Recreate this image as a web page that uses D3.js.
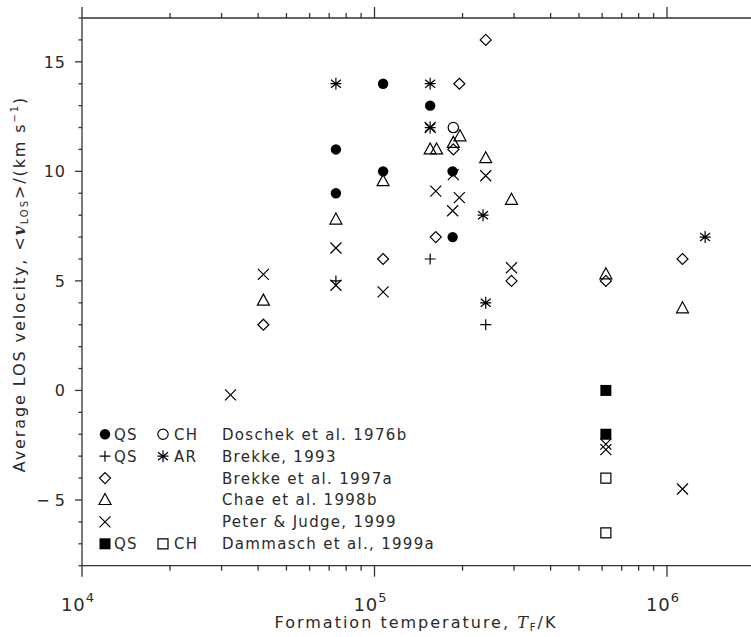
<!DOCTYPE html>
<html><head><meta charset="utf-8">
<script src="https://cdn.jsdelivr.net/npm/d3@7"></script>
<style>body{margin:0;background:#fff}</style>
</head><body>
<svg id="c" width="751" height="637"></svg>
<script>
// ---- data: [formation temperature (K), average LOS velocity (km/s)] ----
const doschekQS  = [[73800,11],[73800,9],[107000,14],[107000,10],[155000,13],[185000,10],[185000,7]];
const doschekCH  = [[186000,12]];
const brekke93QS = [[73800,5.0],[155000,6],[240000,3]];
const brekke93AR = [[73800,14],[155000,14],[155000,12],[235000,8],[240000,4],[1350000,7]];
const brekke97a  = [[41700,3],[107000,6],[162000,7],[186000,11],[195000,14],[240000,16],[294000,5],[618000,5],[1130000,6]];
const chae98b    = [[41700,4.1],[73800,7.8],[107000,9.55],[155000,11],[163000,11],[186000,11.3],[196000,11.6],[240000,10.6],[294000,8.7],[618000,5.3],[1130000,3.75]];
const peter99    = [[32200,-0.2],[41700,5.3],[73800,6.5],[73800,4.8],[107000,4.5],[155000,12],[162000,9.1],[186000,9.85],[195000,8.8],[185000,8.2],[240000,9.8],[294000,5.6],[618000,-2.45],[618000,-2.7],[1130000,-4.5]];
const dammaschQS = [[618000,0],[618000,-2]];
const dammaschCH = [[618000,-4],[618000,-6.5]];

const yTicks = [-5,0,5,10,15];
const xTickExps = [4,5,6];
const legendLabels = ["Doschek et al. 1976b","Brekke, 1993","Brekke et al. 1997a","Chae et al. 1998b","Peter & Judge, 1999","Dammasch et al., 1999a"];
const legendSym1 = ["fcircle","plus","diamond","triangle","cross","fsquare"];
const legendTag1 = ["QS","QS","","","","QS"];
const legendSym2 = ["ocircle","aster","","","","osquare"];
const legendTag2 = ["CH","AR","","","","CH"];

const series = [
  {data: peter99, sym: "cross"},
  {data: brekke97a, sym: "diamond"},
  {data: chae98b, sym: "triangle"},
  {data: brekke93QS, sym: "plus"},
  {data: brekke93AR, sym: "aster"},
  {data: doschekCH, sym: "ocircle"},
  {data: doschekQS, sym: "fcircle"},
  {data: dammaschQS, sym: "fsquare"},
  {data: dammaschCH, sym: "osquare"}
];

// ---- layout ----
const svg = d3.select("#c");
const X0 = 82, TOP = 18, BOT = 565.7, DEC = 292.5;
const x = d3.scaleLog().domain([1e4, 2e6]).range([X0, X0 + DEC*Math.log10(200)]);
const y = d3.scaleLinear().domain([-8, 17]).range([BOT, TOP]);
const FONT = "'DejaVu Sans', sans-serif";
const AX = "#333";
const TXT = "#2a2a2a";

function symPath(t){
  switch(t){
    case "fcircle": return d3.symbol(d3.symbolCircle, Math.PI*5.2*5.2)();
    case "ocircle": return d3.symbol(d3.symbolCircle, Math.PI*5.2*5.2)();
    case "fsquare": return d3.symbol(d3.symbolSquare, 11*11)();
    case "osquare": return d3.symbol(d3.symbolSquare, 10*10)();
    case "plus": return "M-5.5,0H5.5M0,-5.5V5.5";
    case "cross": return "M-5.5,-5.5L5.5,5.5M-5.5,5.5L5.5,-5.5";
    case "aster": return "M0,-6V6M-5,-4L5,4M-5,4L5,-4M-5.5,0H5.5";
    case "diamond": return "M0,-5.5L5.5,0L0,5.5L-5.5,0Z";
    case "triangle": return "M0,-6.5L6,4.5L-6,4.5Z";
  }
}
function styleSym(sel, t){
  const filled = (t==="fcircle"||t==="fsquare");
  sel.attr("d", symPath(t))
     .attr("fill", filled ? "#000" : "none")
     .attr("stroke", filled ? "none" : "#000")
     .attr("stroke-width", 1.2);
}

// ---- axes ----
const minorX = [];
for (let e=4; e<=6; e++) for (let m=1; m<=9; m++){ const v=m*Math.pow(10,e); if (v<=2e6) minorX.push(v); }
const gAx = svg.append("g").attr("stroke", AX).attr("stroke-width", 1.3).attr("fill","none");
gAx.append("line").attr("x1", X0).attr("x2", 751).attr("y1", TOP).attr("y2", TOP);
gAx.append("line").attr("x1", X0).attr("x2", 751).attr("y1", BOT).attr("y2", BOT);
gAx.append("line").attr("x1", X0).attr("x2", X0).attr("y1", TOP).attr("y2", BOT);
minorX.forEach(v=>{
  const major = Math.abs(Math.log10(v)-Math.round(Math.log10(v)))<1e-9;
  const L = major ? 11 : 5;
  gAx.append("line").attr("x1", x(v)).attr("x2", x(v)).attr("y1", BOT).attr("y2", BOT+L);
  gAx.append("line").attr("x1", x(v)).attr("x2", x(v)).attr("y1", TOP).attr("y2", TOP-L);
});
d3.range(-8, 18).forEach(v=>{
  const major = v % 5 === 0;
  const L = major ? 7 : 3.5;
  gAx.append("line").attr("x1", X0-L).attr("x2", X0).attr("y1", y(v)).attr("y2", y(v));
});

// y tick labels
svg.append("g").selectAll("text").data(yTicks).join("text")
  .attr("x", 66).attr("y", d=>y(d)+6)
  .attr("text-anchor","end")
  .attr("font-family", FONT).attr("font-size", 16).attr("letter-spacing", 1)
  .attr("fill", TXT)
  .text(d => d<0 ? "\u2212" + "\u2009" + Math.abs(d) : String(d));

// x tick labels
const xl = svg.append("g").selectAll("text").data(xTickExps).join("text")
  .attr("x", d=>x(Math.pow(10,d))-4).attr("y", 611)
  .attr("text-anchor","middle")
  .attr("font-family", FONT).attr("font-size", 18).attr("letter-spacing", 1)
  .attr("fill", TXT);
xl.append("tspan").text("10");
xl.append("tspan").attr("dy", -9).attr("font-size", 13).text(d=>d);

// axis titles
const xt = svg.append("text").attr("x", 416).attr("y", 628).attr("text-anchor","middle")
  .attr("font-family", FONT).attr("font-size", 16).attr("letter-spacing", 2).attr("fill", TXT);
xt.append("tspan").text("Formation temperature, ");
xt.append("tspan").attr("font-family","'DejaVu Serif', serif").attr("font-style","italic").text("T");
xt.append("tspan").attr("font-size", 10).attr("dy", 3).text("F");
xt.append("tspan").attr("dy", -3).text("/K");

const yt = svg.append("text").attr("transform","translate(25,284) rotate(-90)").attr("text-anchor","middle")
  .attr("font-family", FONT).attr("font-size", 16).attr("letter-spacing", 1.9).attr("fill", TXT);
yt.append("tspan").text("Average LOS velocity, <");
yt.append("tspan").attr("font-family","'DejaVu Serif', serif").attr("font-style","italic").attr("font-weight","bold").text("v");
yt.append("tspan").attr("font-size", 10).attr("dy", 3).text("LOS");
yt.append("tspan").attr("dy", -3).text(">/(km s");
yt.append("tspan").attr("font-size", 10).attr("dy", -7).text("\u22121");
yt.append("tspan").attr("dy", 7).text(")");

// ---- data points ----
const gp = svg.append("g");
series.forEach(s=>{
  gp.append("g").selectAll("path").data(s.data).join("path")
    .attr("transform", d=>`translate(${x(d[0])},${y(d[1])})`)
    .call(sel=>styleSym(sel, s.sym));
});

// ---- legend ----
const lg = svg.append("g");
legendLabels.forEach((lab,i)=>{
  const cy = y(-2 - i);
  const tt = (txt, tx) => lg.append("text").attr("x", tx).attr("y", cy+5.5)
      .attr("font-family", FONT).attr("font-size", 15).attr("letter-spacing", 1.3)
      .attr("fill", TXT).text(txt);
  lg.append("path").attr("transform", `translate(105,${cy})`).call(sel=>styleSym(sel, legendSym1[i]));
  if (legendTag1[i]) tt(legendTag1[i], 114);
  if (legendSym2[i]){
    lg.append("path").attr("transform", `translate(163,${cy})`).call(sel=>styleSym(sel, legendSym2[i]));
    tt(legendTag2[i], 174);
  }
  tt(lab, 222);
});
</script>
</body></html>
